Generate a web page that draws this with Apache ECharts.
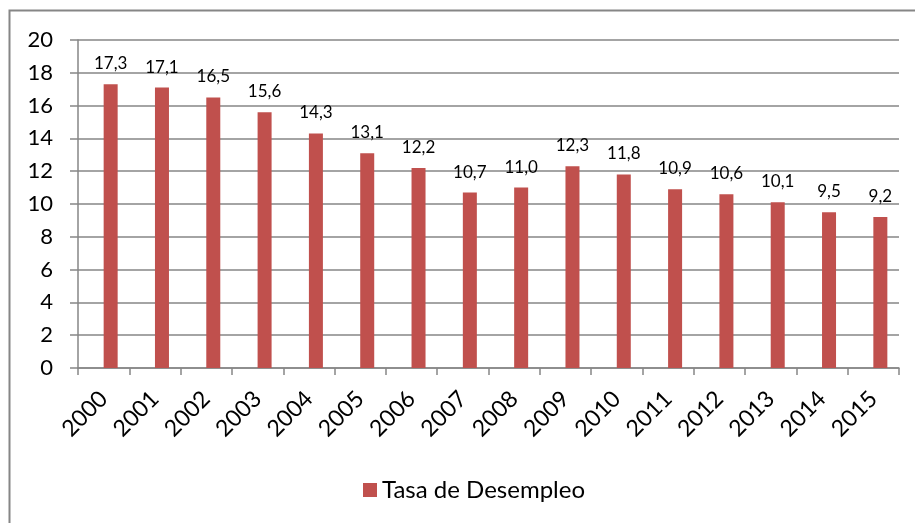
<!DOCTYPE html>
<html>
<head>
<meta charset="utf-8">
<script src="https://cdn.jsdelivr.net/npm/echarts@6/dist/echarts.min.js"></script>
<style>
  html, body { margin: 0; padding: 0; background: #fff; }
  #chart { width: 915px; height: 523px; }
</style>
</head>
<body>
<div id="chart"></div>
<script>
// datos
const years = ['2000', '2001', '2002', '2003', '2004', '2005', '2006', '2007',
  '2008', '2009', '2010', '2011', '2012', '2013', '2014', '2015']
const tasa = [17.3, 17.1, 16.5, 15.6, 14.3, 13.1, 12.2, 10.7,
  11.0, 12.3, 11.8, 10.9, 10.6, 10.1, 9.5, 9.2]
const seriesName = 'Tasa de Desempleo'

const gray = '#868686'
const font = 'Lato, "Open Sans", sans-serif'

const chart = echarts.init(document.getElementById('chart'))
const option = {
  animation: false,
  textStyle: { fontFamily: font },
  // marco exterior del grafico
  graphic: [{
    type: 'rect',
    shape: { x: 9.5, y: 10.5, width: 930, height: 540 },
    style: { fill: 'none', stroke: gray, lineWidth: 2 },
    silent: true
  }],
  grid: { left: 78, right: 16, top: 40, bottom: 155 },
  legend: {
    data: [seriesName],
    left: 358,
    top: 473,
    itemWidth: 14,
    itemHeight: 14,
    icon: 'rect',
    textStyle: { fontSize: 24, color: '#000', fontFamily: font }
  },
  xAxis: {
    type: 'category',
    data: years,
    axisLine: { lineStyle: { color: gray, width: 1.5 } },
    axisTick: { show: true, length: 7, alignWithLabel: false, lineStyle: { color: gray, width: 1.5 } },
    axisLabel: { rotate: 45, margin: 27, fontSize: 23, color: '#000', interval: 0 }
  },
  yAxis: {
    type: 'value',
    min: 0,
    max: 20,
    interval: 2,
    axisLine: { show: true, lineStyle: { color: gray, width: 1.5 } },
    axisTick: { show: true, length: 8, lineStyle: { color: gray, width: 1.5 } },
    axisLabel: { fontSize: 22, color: '#000', margin: 25 },
    splitLine: { lineStyle: { color: gray, width: 1.5 } }
  },
  series: [
    {
      // serie vacia, desplaza las barras como en el original
      name: '',
      type: 'bar',
      data: [],
      barWidth: 14,
      barGap: '0%'
    },
    {
      name: seriesName,
      type: 'bar',
      data: tasa,
      barWidth: 14,
      barGap: '0%',
      itemStyle: { color: '#C0504D' },
      label: {
        show: true,
        position: 'top',
        distance: 12,
        fontSize: 17,
        color: '#000',
        formatter: p => p.value.toFixed(1).replace('.', ',')
      }
    }
  ]
}
chart.setOption(option)
</script>
</body>
</html>
